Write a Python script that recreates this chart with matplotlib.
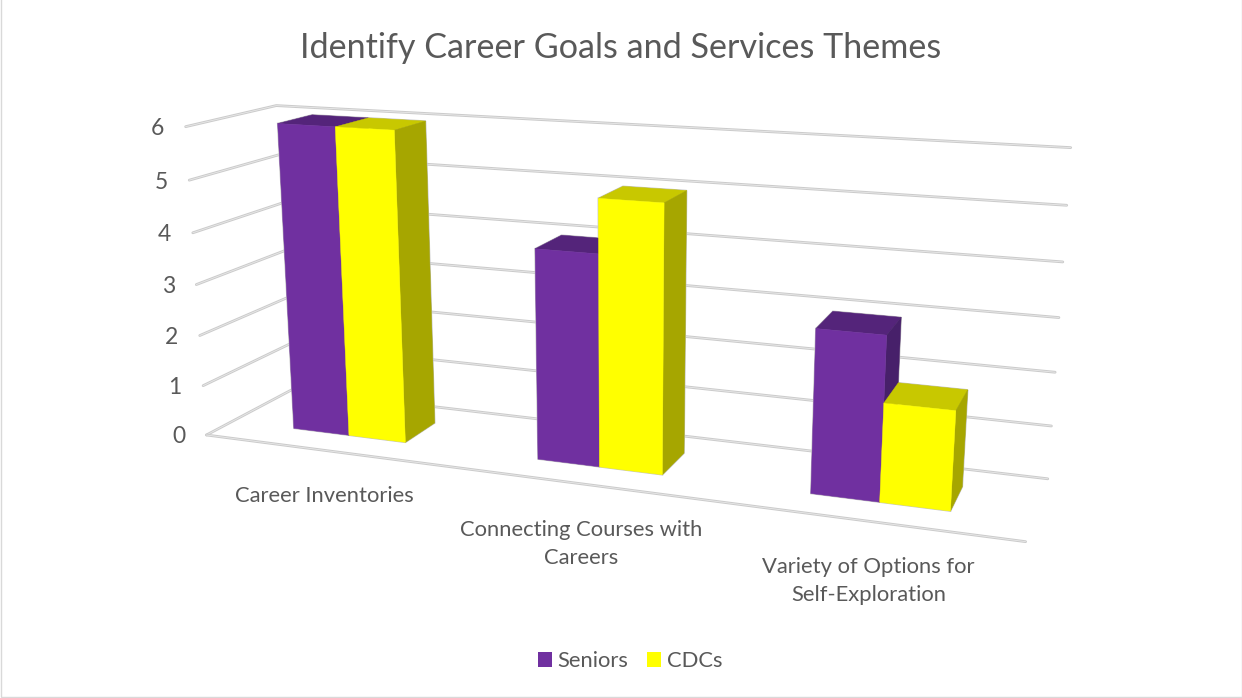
import numpy as np
import matplotlib
matplotlib.use("Agg")
import matplotlib.pyplot as plt
from matplotlib.patches import Patch, Rectangle

plt.rcParams['font.family'] = ['Lato', 'DejaVu Sans']

categories = ["Career Inventories", "Connecting Courses with\nCareers", "Variety of Options for\nSelf-Exploration"]
seniors = [6, 4, 3]
cdcs = [6, 5, 1.8]
value_ticks = [0, 1, 2, 3, 4, 5, 6]

TEXT = "#595959"
GRID = "#cbcbcb"
PURPLE = ("#7030a0", "#54247a", "#47206a")
YELLOW = ("#ffff00", "#c8c800", "#a6a600")

BAR_W = 0.235
BAR_MARGIN = 0.265
DEPTH_FRONT = 0.30
DEPTH_BACK = 0.70

# camera calibration: (category pos, depth, value) -> pixel
world = np.array([
    (0, 0, 0), (3, 0, 0), (3, 1, 0), (0, 1, 0),
    (0, 0, 1), (0, 0, 2), (0, 0, 3), (0, 0, 4), (0, 0, 5), (0, 0, 6),
    (0, 1, 6), (3, 1, 6), (3, 1, 5), (3, 1, 4), (3, 1, 3), (3, 1, 2), (3, 1, 1),
], dtype=float)
pixels = np.array([
    (207, 434), (1026, 541), (1048, 478), (291, 390),
    (203, 386), (200, 336), (196, 285), (192, 233), (189, 180), (186, 127),
    (277, 105), (1070, 147), (1067, 205), (1063, 262), (1059, 318), (1055, 373), (1051, 427),
], dtype=float)


def fit_camera(w, p):
    '''least squares fit of the 3x4 projective matrix'''
    rows, rhs = [], []
    for (x, y, z), (u, v) in zip(w, p):
        rows.append([x, y, z, 1, 0, 0, 0, 0, -u*x, -u*y, -u*z])
        rows.append([0, 0, 0, 0, x, y, z, 1, -v*x, -v*y, -v*z])
        rhs.extend([u, v])
    sol = np.linalg.lstsq(np.array(rows), np.array(rhs), rcond=None)[0]
    return np.append(sol, 1).reshape(3, 4)


CAM = fit_camera(world, pixels)


def project(x, y, z):
    u, v, s = CAM @ np.array([x, y, z, 1.0])
    return u/s, v/s


def draw_grid_line(ax, pts):
    xs, ys = zip(*pts)
    ax.plot(xs, ys, color=GRID, lw=2.0, solid_capstyle="round", solid_joinstyle="miter", zorder=1)
    ax.plot(xs, ys, color="#e8e8e8", lw=0.6, solid_capstyle="round", solid_joinstyle="miter", zorder=1)


def draw_bar(ax, x0, x1, value, colors):
    y0, y1 = DEPTH_FRONT, DEPTH_BACK
    top = [project(x0, y0, value), project(x1, y0, value), project(x1, y1, value), project(x0, y1, value)]
    side = [project(x1, y0, 0), project(x1, y1, 0), project(x1, y1, value), project(x1, y0, value)]
    front = [project(x0, y0, 0), project(x1, y0, 0), project(x1, y0, value), project(x0, y0, value)]
    for face, col in ((top, colors[1]), (side, colors[2]), (front, colors[0])):
        # grey halo underneath, only its outer rim stays visible
        ax.fill(*zip(*face), facecolor=col, edgecolor="#c4c4c4", lw=1.1, zorder=2)
    for face, col in ((top, colors[1]), (side, colors[2]), (front, colors[0])):
        ax.fill(*zip(*face), facecolor=col, edgecolor=col, lw=0.3, zorder=3)


fig = plt.figure(figsize=(12.42, 6.98), dpi=100)
ax = fig.add_axes([0, 0, 1, 1])
ax.set_xlim(0, 1242)
ax.set_ylim(698, 0)
ax.axis("off")

# chart area outline
ax.add_patch(Rectangle((0.5, -2), 1241, 699, facecolor="white", edgecolor="#d9d9d9", lw=1.0, zorder=0))

# gridlines along both walls
for t in value_ticks:
    draw_grid_line(ax, [project(0, 0, t), project(0, 1, t), project(3, 1, t)])
    px, py = project(0, 0, t)
    ax.text(px - 28, py + 2, str(t), fontsize=16.5, color=TEXT, ha="center", va="center")

# front edge of the floor
draw_grid_line(ax, [project(0, 0, 0), project(3, 0, 0)])

for i in range(len(categories)):
    a = i + BAR_MARGIN
    draw_bar(ax, a, a + BAR_W, seniors[i], PURPLE)
    draw_bar(ax, a + BAR_W, a + 2*BAR_W, cdcs[i], YELLOW)
    px, py = project(i + 0.5, 0, 0)
    ax.text(px + 0.5, py + 36, categories[i], fontsize=15.8, color=TEXT, ha="center", va="top", linespacing=1.5)

ax.text(621, 47.5, "Identify Career Goals and Services Themes", fontsize=24.6, color=TEXT, ha="center", va="center")

handles = [Patch(facecolor=PURPLE[0], label="Seniors"), Patch(facecolor=YELLOW[0], label="CDCs")]
ax.legend(handles=handles, ncol=2, frameon=False, loc="center", bbox_to_anchor=(630/1242, 1 - 661/698),
          fontsize=15.8, labelcolor=TEXT, handlelength=0.64, handleheight=0.64, handletextpad=0.26, columnspacing=0.83)

fig.savefig("out.png", dpi=100)
